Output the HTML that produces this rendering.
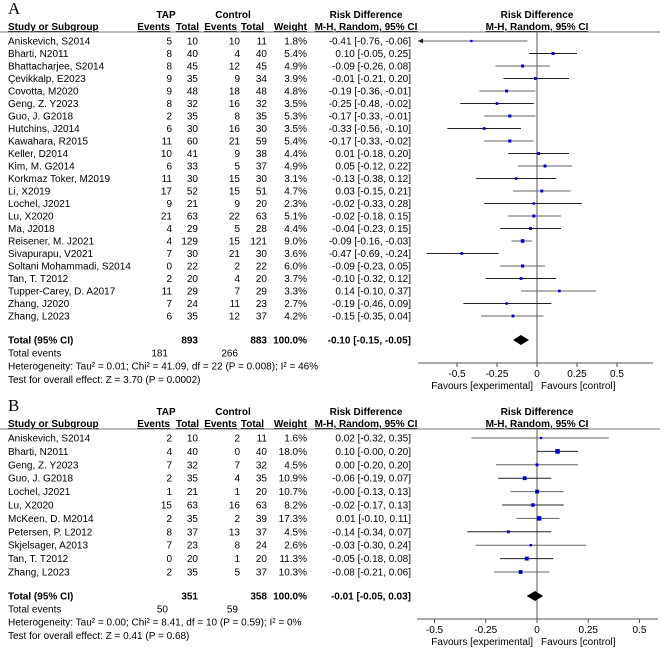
<!DOCTYPE html>
<html><head><meta charset="utf-8">
<style>
html,body{margin:0;padding:0;background:#fff;}
svg{display:block;font-family:"Liberation Sans",Arial,sans-serif;font-size:10px;}
</style></head>
<body>
<svg id="fp" width="667" height="649" viewBox="0 0 667 649" xmlns="http://www.w3.org/2000/svg"></svg>
<script>
// ---------- Panel A data ----------
const studiesA = ["Aniskevich, S2014","Bharti, N2011","Bhattacharjee, S2014","Çevikkalp, E2023","Covotta, M2020","Geng, Z. Y2023","Guo, J. G2018","Hutchins, J2014","Kawahara, R2015","Keller, D2014","Kim, M. G2014","Korkmaz Toker, M2019","Li, X2019","Lochel, J2021","Lu, X2020","Ma, J2018","Reisener, M. J2021","Sivapurapu, V2021","Soltani Mohammadi, S2014","Tan, T. T2012","Tupper-Carey, D. A2017","Zhang, J2020","Zhang, L2023"];
const tapEventsA = [5,8,8,9,9,8,2,6,11,10,6,11,17,9,21,4,4,7,0,2,11,7,6];
const tapTotalA = [10,40,45,35,48,32,35,30,60,41,33,30,52,21,63,29,129,30,22,20,29,24,35];
const ctrlEventsA = [10,4,12,9,18,16,8,16,21,9,5,15,15,9,22,5,15,21,2,4,7,11,12];
const ctrlTotalA = [11,40,45,34,48,32,35,30,59,38,37,30,51,20,63,28,121,30,22,20,29,23,37];
const weightA = [1.8,5.4,4.9,3.9,4.8,3.5,5.3,3.5,5.4,4.4,4.9,3.1,4.7,2.3,5.1,4.4,9.0,3.6,6.0,3.7,3.3,2.7,4.2];
const rdA = [-0.41,0.10,-0.09,-0.01,-0.19,-0.25,-0.17,-0.33,-0.17,0.01,0.05,-0.13,0.03,-0.02,-0.02,-0.04,-0.09,-0.47,-0.09,-0.10,0.14,-0.19,-0.15];
const loA = [-0.76,-0.05,-0.26,-0.21,-0.36,-0.48,-0.33,-0.56,-0.33,-0.18,-0.12,-0.38,-0.15,-0.33,-0.18,-0.23,-0.16,-0.69,-0.23,-0.32,-0.10,-0.46,-0.35];
const hiA = [-0.06,0.25,0.08,0.20,-0.01,-0.02,-0.01,-0.10,-0.02,0.20,0.22,0.12,0.21,0.28,0.15,0.15,-0.03,-0.24,0.05,0.12,0.37,0.09,0.04];
const totalA = {tapTotal:893, ctrlTotal:883, tapEv:181, ctrlEv:266, rd:-0.10, lo:-0.15, hi:-0.05};
const textA = ["Heterogeneity: Tau² = 0.01; Chi² = 41.09, df = 22 (P = 0.008); I² = 46%","Test for overall effect: Z = 3.70 (P = 0.0002)"];
const ticksA = [-0.5,-0.25,0,0.25,0.5];
const tickLabelsA = ["-0.5","-0.25","0","0.25","0.5"];

// ---------- Panel B data ----------
const studiesB = ["Aniskevich, S2014","Bharti, N2011","Geng, Z. Y2023","Guo, J. G2018","Lochel, J2021","Lu, X2020","McKeen, D. M2014","Petersen, P. L2012","Skjelsager, A2013","Tan, T. T2012","Zhang, L2023"];
const tapEventsB = [2,4,7,2,1,15,2,8,7,0,2];
const tapTotalB = [10,40,32,35,21,63,35,37,23,20,35];
const ctrlEventsB = [2,0,7,4,1,16,2,13,8,1,5];
const ctrlTotalB = [11,40,32,35,20,63,39,37,24,20,37];
const weightB = [1.6,18.0,4.5,10.9,10.7,8.2,17.3,4.5,2.6,11.3,10.3];
const rdB = [0.02,0.10,0.00,-0.06,-0.00,-0.02,0.01,-0.14,-0.03,-0.05,-0.08];
const loB = [-0.32,-0.00,-0.20,-0.19,-0.13,-0.17,-0.10,-0.34,-0.30,-0.18,-0.21];
const hiB = [0.35,0.20,0.20,0.07,0.13,0.13,0.11,0.07,0.24,0.08,0.06];
const totalB = {tapTotal:351, ctrlTotal:358, tapEv:50, ctrlEv:59, rd:-0.01, lo:-0.05, hi:0.03};
const textB = ["Heterogeneity: Tau² = 0.00; Chi² = 8.41, df = 10 (P = 0.59); I² = 0%","Test for overall effect: Z = 0.41 (P = 0.68)"];
const ticksB = [-0.5,-0.25,0,0.25,0.5];
const tickLabelsB = ["-0.5","-0.25","0","0.25","0.5"];

const svg = document.getElementById('fp');
const NS = "http://www.w3.org/2000/svg";
function mk(tag, attrs, parent, txt){
  const e = document.createElementNS(NS, tag);
  for (const k in attrs) e.setAttribute(k, attrs[k]);
  if (txt !== undefined) e.textContent = txt;
  (parent||svg).appendChild(e);
  return e;
}
function fmt(v){ return (v<0||Object.is(v,-0)?"-":"")+Math.abs(v).toFixed(2); }

function drawPanel(p){
  const g = mk('g', {});
  
  
  const R = p.rule;
  const x0 = 537, sc = p.scale;
  const xs = v => x0 + v*sc;
  const lt = mk('text', {x:8, y:R-17, 'font-family':'"Liberation Serif",serif', 'font-size':17}, g, p.letter);
  
  
  const hdr = [[166,R-13,'TAP'],[233,R-13,'Control'],[366,R-13,'Risk Difference'],[537,R-13,'Risk Difference']];
  hdr.forEach(h=>{
    const t = mk('text',{x:h[0],y:h[1],'text-anchor':'middle','font-weight':'bold'},g,h[2]);
    
    
  });
  const sub = [[8,'start','Study or Subgroup'],[170,'end','Events'],[199,'end','Total'],[237,'end','Events'],[264,'end','Total'],[307,'end','Weight'],[366,'middle','M-H, Random, 95% CI'],[537,'middle','M-H, Random, 95% CI']];
  sub.forEach(h=>{
    const t = mk('text',{x:h[0],y:R-1,'text-anchor':h[1],'font-weight':'bold','text-decoration':'underline'},g,h[2]);
    
    
  });
  const rl = mk('line',{x1:0,y1:R+1,x2:660,y2:R+1,stroke:'#777','stroke-width':1},g);
  
  
  const axY = p.axisY;
  const z = mk('line',{x1:xs(0),y1:R+1,x2:xs(0),y2:axY,stroke:'#555','stroke-width':1},g);
  
  
  const minV = (p.axL - x0)/sc, maxV = (p.axR - x0)/sc;
  p.studies.forEach((s,i)=>{
    const cy = R + 10 + i*p.step;
    const by = cy + 3.5;
    const row = mk('g',{},g);
    
    
    mk('text',{x:8,y:by},row,s);
    mk('text',{x:172,y:by,'text-anchor':'end'},row,p.te[i]);
    mk('text',{x:198,y:by,'text-anchor':'end'},row,p.tt[i]);
    mk('text',{x:240,y:by,'text-anchor':'end'},row,p.ce[i]);
    mk('text',{x:267,y:by,'text-anchor':'end'},row,p.ct[i]);
    mk('text',{x:307,y:by,'text-anchor':'end'},row,p.w[i].toFixed(1)+'%');
    mk('text',{x:411,y:by,'text-anchor':'end'},row,fmt(p.rd[i])+' ['+fmt(p.lo[i])+', '+fmt(p.hi[i])+']');
    const lo = Math.max(p.lo[i], minV), hi = Math.min(p.hi[i], maxV);
    const ci = mk('line',{x1:xs(lo),y1:cy,x2:xs(hi),y2:cy,stroke:(i%2?'#222':'#666'),'stroke-width':1},row);
    
    
    if (p.lo[i] < minV){
      const a = mk('path',{d:`M${xs(lo)} ${cy} l5 -2.5 l0 5 z`,fill:'#222'},row);
      
      
    }
    const sz = 1.2 + 0.8*Math.sqrt(p.w[i]);
    const sq = mk('rect',{x:xs(p.rd[i])-sz/2,y:cy-sz/2,width:sz,height:sz,fill:'#0000dd'},row);
    
    
  });
  const lastY = R + 10 + (p.studies.length-1)*p.step;
  const ty = lastY + 24;
  const tg = mk('g',{'font-weight':'bold'},g);
  
  
  mk('text',{x:8,y:ty+3.5},tg,'Total (95% CI)');
  mk('text',{x:198,y:ty+3.5,'text-anchor':'end'},tg,p.tot.tapTotal);
  mk('text',{x:267,y:ty+3.5,'text-anchor':'end'},tg,p.tot.ctrlTotal);
  mk('text',{x:307,y:ty+3.5,'text-anchor':'end'},tg,'100.0%');
  mk('text',{x:411,y:ty+3.5,'text-anchor':'end'},tg,fmt(p.tot.rd)+' ['+fmt(p.tot.lo)+', '+fmt(p.tot.hi)+']');
  const d = mk('path',{d:`M${xs(p.tot.lo)} ${ty} L${xs(p.tot.rd)} ${ty-5} L${xs(p.tot.hi)} ${ty} L${xs(p.tot.rd)} ${ty+5} Z`,fill:'#000'},g);
  
  
  const te = mk('g',{},g);
  
  
  mk('text',{x:8,y:ty+16.5},te,'Total events');
  mk('text',{x:168,y:ty+16.5,'text-anchor':'end'},te,p.tot.tapEv);
  mk('text',{x:238,y:ty+16.5,'text-anchor':'end'},te,p.tot.ctrlEv);
  p.txt.forEach((t,k)=>{
    const e = mk('text',{x:8,y:ty+29.5+k*13.5},g,t);
    
    
  });
  const ax = mk('line',{x1:p.axL,y1:axY,x2:p.axR,y2:axY,stroke:'#555'},g);
  
  
  p.ticks.forEach((v,k)=>{
    const tk = mk('line',{x1:xs(v),y1:axY,x2:xs(v),y2:axY+4,stroke:'#555'},g);
    
    
    const tl = mk('text',{x:xs(v),y:axY+14,'text-anchor':'middle'},g,p.tickLabels[k]);
    
    
  });
  const f1 = mk('text',{x:x0-4,y:axY+26,'text-anchor':'end'},g,'Favours [experimental]');
  
  
  const f2 = mk('text',{x:x0+4,y:axY+26},g,'Favours [control]');
  
  
}

drawPanel({name:'panel-a', letter:'A', rule:31, step:12.5, scale:160, axisY:363, axL:418, axR:653,
  studies:studiesA, te:tapEventsA, tt:tapTotalA, ce:ctrlEventsA, ct:ctrlTotalA, w:weightA, rd:rdA, lo:loA, hi:hiA,
  tot:totalA, txt:textA, ticks:ticksA, tickLabels:tickLabelsA});
drawPanel({name:'panel-b', letter:'B', rule:428, step:13.4, scale:205, axisY:619, axL:417, axR:658,
  studies:studiesB, te:tapEventsB, tt:tapTotalB, ce:ctrlEventsB, ct:ctrlTotalB, w:weightB, rd:rdB, lo:loB, hi:hiB,
  tot:totalB, txt:textB, ticks:ticksB, tickLabels:tickLabelsB});
</script>
</body></html>
